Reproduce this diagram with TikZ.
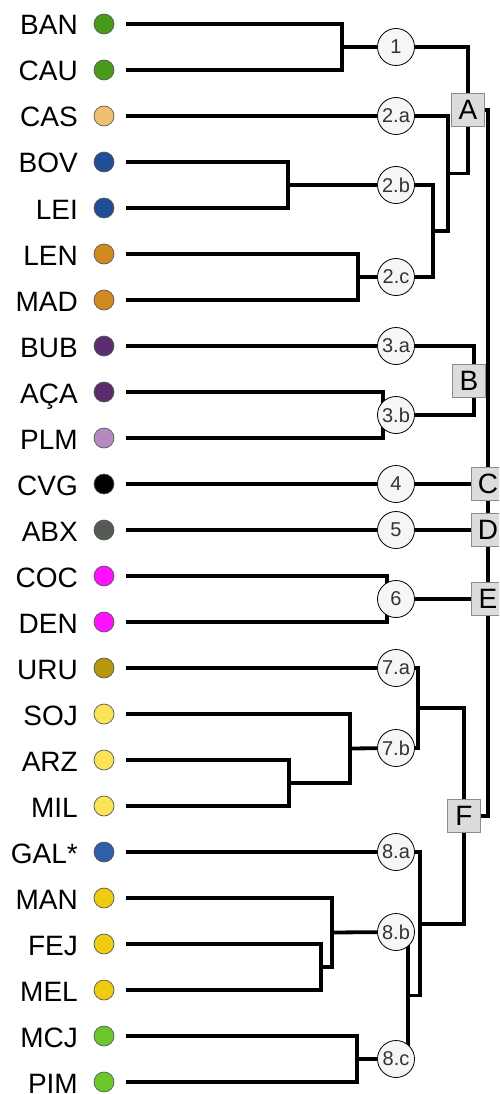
\documentclass[tikz,border=0pt]{standalone}
\usepackage{fontspec}
\setmainfont{Liberation Sans}
\usetikzlibrary{backgrounds}
\definecolor{cGa}{HTML}{4A9A1A}
\definecolor{cTan}{HTML}{F0C070}
\definecolor{cBla}{HTML}{1F4E96}
\definecolor{cOr}{HTML}{D08A1E}
\definecolor{cPu}{HTML}{5C2D6E}
\definecolor{cLP}{HTML}{B888C0}
\definecolor{cBk}{HTML}{000000}
\definecolor{cGy}{HTML}{555A55}
\definecolor{cMg}{HTML}{FF10FF}
\definecolor{cGd}{HTML}{B8960E}
\definecolor{cLY}{HTML}{FBE45A}
\definecolor{cBlb}{HTML}{2E5FA8}
\definecolor{cYe}{HTML}{F0CC10}
\definecolor{cGb}{HTML}{6CC82A}
\definecolor{numfill}{HTML}{F6F6F6}
\definecolor{boxfill}{HTML}{DCDCDC}
\tikzset{
  lbl/.style={anchor=base east, inner sep=0pt, font=\fontsize{28}{30}\selectfont},
  leafdot/.style={circle, draw=black!65, line width=0.7pt, minimum size=20pt, inner sep=0pt},
  numnode/.style={circle, draw=black, line width=0.8pt, fill=numfill, minimum size=37pt, inner sep=0pt, font=\fontsize{20}{22}\selectfont, text=black!80},
  grpbox/.style={draw=black!45, line width=0.8pt, fill=boxfill, minimum size=33pt, inner sep=0pt, font=\fontsize{28}{30}\selectfont},
  tree/.style={line width=3.8pt, line join=miter}
}
\begin{document}
\begin{tikzpicture}[x=1pt,y=-1pt]
\useasboundingbox (0,0) rectangle (499,1094);
\clip (0,0) rectangle (499,1094);
% leaves
\foreach \n/\t/\c [count=\i from 0] in {BAN/BAN/cGa, CAU/CAU/cGa, CAS/CAS/cTan, BOV/BOV/cBla, LEI/LEI/cBla, LEN/LEN/cOr, MAD/MAD/cOr, BUB/BUB/cPu, ACA/AÇA/cPu, PLM/PLM/cLP, CVG/CVG/cBk, ABX/ABX/cGy, COC/COC/cMg, DEN/DEN/cMg, URU/URU/cGd, SOJ/SOJ/cLY, ARZ/ARZ/cLY, MIL/MIL/cLY, GAL/GAL*/cBlb, MAN/MAN/cYe, FEJ/FEJ/cYe, MEL/MEL/cYe, MCJ/MCJ/cGb, PIM/PIM/cGb}{
  \node[lbl] (l\n) at (78,{24+46*\i+11}) {\t};
  \node[leafdot, fill=\c] (d\n) at (104,{24+46*\i}) {};
  \coordinate (s\n) at (126,{24+46*\i});
}
% numbered nodes
\node[numnode] (c1)  at (396,47) {1};
\node[numnode] (c2a) at (396,116) {2.a};
\node[numnode] (c2b) at (396,185) {2.b};
\node[numnode] (c2c) at (396,277) {2.c};
\node[numnode] (c3a) at (396,346) {3.a};
\node[numnode] (c3b) at (396,415) {3.b};
\node[numnode] (c4)  at (396,484) {4};
\node[numnode] (c5)  at (396,530) {5};
\node[numnode] (c6)  at (396,599) {6};
\node[numnode] (c7a) at (396,668) {7.a};
\node[numnode] (c7b) at (396,748) {7.b};
\node[numnode] (c8a) at (396,852) {8.a};
\node[numnode] (c8b) at (396,932) {8.b};
\node[numnode] (c8c) at (396,1059) {8.c};
% group boxes
\node[grpbox] (bA) at (468,110) {A};
\node[grpbox] (bB) at (469,381) {B};
\node[grpbox] (bC) at (488,484) {C};
\node[grpbox] (bD) at (488,530) {D};
\node[grpbox] (bE) at (488,599) {E};
\node[grpbox] (bF) at (464,816) {F};
% join points
\coordinate (j1) at (342,47);
\coordinate (jBL) at (288,185);
\coordinate (jLM) at (358,277);
\coordinate (j2bc) at (433,231);
\coordinate (j2) at (448,173.5);
\coordinate (jB) at (474,380.5);
\coordinate (jAP) at (383,415);
\coordinate (jCD) at (387,599);
\coordinate (jAM) at (289,783);
\coordinate (jS) at (350,748.5);
\coordinate (j7) at (418,708);
\coordinate (jFM) at (321,967);
\coordinate (jMan) at (332,932.5);
\coordinate (jMP) at (357,1059);
\coordinate (j8bc) at (408,995.5);
\coordinate (j8) at (420,924);
\coordinate (mF) at (488,816);
\begin{pgfonlayer}{background}
\begin{scope}[tree]
% group 1 / 2 / A
\draw (sBAN) -| (j1) |- (sCAU);
\draw (j1) -- (c1);
\draw (c1) -| (bA);
\draw (bA) |- (j2);
\draw (sCAS) -- (c2a);
\draw (c2a) -| (j2) |- (j2bc);
\draw (sBOV) -| (jBL) |- (sLEI);
\draw (jBL) -- (c2b);
\draw (sLEN) -| (jLM) |- (sMAD);
\draw (jLM) -- (c2c);
\draw (c2b) -| (j2bc) |- (c2c);
% main spine
\draw (bA) -| (mF) -- (bF);
% B
\draw (sBUB) -- (c3a);
\draw (sACA) -| (jAP) |- (sPLM);
\draw (jAP) -- (c3b);
\draw (c3a) -| (jB) |- (c3b);
\draw (bB.east) -- (bB.east -| mF);
% C, D, E
\draw (sCVG) -- (c4) -- (bC);
\draw (sABX) -- (c5) -- (bD);
\draw (sCOC) -| (jCD) |- (sDEN);
\draw (jCD) -- (c6) -- (bE);
% 7
\draw (sURU) -- (c7a);
\draw (sARZ) -| (jAM) |- (sMIL);
\draw (sSOJ) -| (jS) |- (jAM);
\draw (jS) -- (c7b);
\draw (c7a) -| (j7) |- (c7b);
\draw (j7) -| (bF);
% 8
\draw (sGAL) -- (c8a);
\draw (sFEJ) -| (jFM) |- (sMEL);
\draw (sMAN) -| (jMan) |- (jFM);
\draw (jMan) -- (c8b);
\draw (sMCJ) -| (jMP) |- (sPIM);
\draw (jMP) -- (c8c);
\draw (c8b.center -| j8bc) -- (c8c.center -| j8bc);
\draw (j8bc) -| (j8);
\draw (c8a) -| (j8);
\draw (bF) |- (j8);
\end{scope}
\end{pgfonlayer}
\end{tikzpicture}
\end{document}
